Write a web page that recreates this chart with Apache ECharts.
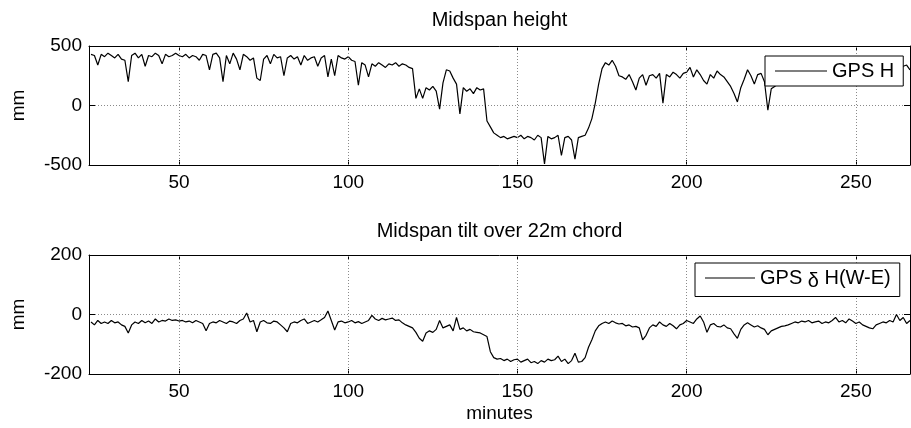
<!DOCTYPE html>
<html>
<head>
<meta charset="utf-8">
<script src="https://cdn.jsdelivr.net/npm/echarts@6/dist/echarts.min.js"></script>
<style>
html,body{margin:0;padding:0;background:#fff;}
#c{width:911px;height:428px;}
</style>
</head>
<body>
<div id="c"></div>
<script>
// ---- data ----
const startMinute = 24;          // first sample, minutes; one sample per minute
const xTicks = [50, 100, 150, 200, 250];
const heightTicks = [-500, 0, 500];
const tiltTicks = [-200, 0, 200];
const titleTop = 'Midspan height';
const titleBottom = 'Midspan tilt over 22m chord';
const xLabel = 'minutes';
const yLabel = 'mm';

// GPS H (mm), minutes 24..266
const gpsH = [
  430, 420, 340, 430, 410, 440, 420, 400, 430, 390,   // 24-33
  380, 200, 420, 440, 400, 430, 330, 420, 410, 440,   // 34-43
  420, 350, 430, 410, 420, 440, 420, 410, 430, 400,   // 44-53
  420, 410, 380, 430, 420, 300, 430, 440, 400, 200,   // 54-63
  420, 350, 440, 390, 300, 430, 410, 380, 400, 230,   // 64-73
  210, 390, 420, 350, 430, 400, 410, 250, 400, 420,   // 74-83
  390, 410, 340, 420, 380, 400, 410, 330, 400, 420,   // 84-93
  240, 390, 250, 420, 400, 390, 410, 380, 370, 170,   // 94-103
  360, 340, 240, 350, 330, 360, 340, 320, 350, 340,   // 104-113
  360, 330, 350, 340, 320, 310, 60, 140, 60, 150,     // 114-123
  130, 160, 120, -30, 190, 300, 290, 230, 180, -70,   // 124-133
  150, 120, 140, 100, 150, 130, 140, -130, -180, -230,// 134-143
  -250, -270, -260, -280, -270, -260, -270, -250, -280, -260, // 144-153
  -270, -290, -250, -270, -490, -260, -280, -270, -250, -420, // 154-163
  -270, -260, -290, -450, -270, -260, -250, -190, -110, 20,   // 164-173
  180, 310, 360, 340, 380, 330, 250, 240, 220, 260,   // 174-183
  200, 130, 230, 260, 170, 250, 260, 230, 270, 20,    // 184-193
  260, 240, 280, 260, 230, 270, 280, 320, 240, 300,   // 194-203
  260, 210, 180, 260, 230, 290, 260, 240, 200, 160,   // 204-213
  100, 30, 150, 220, 300, 250, 180, 260, 270, 200,    // 214-223
  -40, 140, 160, 180, 230, 260, 240, 280, 250, 300,   // 224-233
  270, 240, 290, 260, 230, 280, 300, 260, 250, 290,   // 234-243
  270, 240, 280, 310, 260, 250, 290, 270, 240, 280,   // 244-253
  300, 260, 270, 250, 290, 280, 260, 300, 320, 290,   // 254-263
  330, 340, 300                                       // 264-266
];

// GPS dH(W-E) (mm), minutes 24..266
const gpsDH = [
  -25, -35, -20, -30, -25, -30, -20, -28, -25, -35,   // 24-33
  -40, -62, -35, -25, -30, -20, -28, -22, -30, -15,   // 34-43
  -25, -20, -22, -15, -20, -18, -22, -20, -25, -22,   // 44-53
  -28, -20, -25, -30, -55, -30, -25, -28, -20, -25,   // 54-63
  -30, -22, -25, -30, -20, -15, 5, -25, -20, -58,     // 64-73
  -25, -20, -28, -30, -22, -25, -35, -45, -58, -30,   // 74-83
  -25, -28, -20, -15, -30, -25, -20, -25, -18, -10,   // 84-93
  12, -20, -52, -25, -22, -28, -25, -20, -28, -24,    // 94-103
  -30, -25, -20, -3, -15, -20, -13, -18, -15, -12,    // 104-113
  -20, -18, -28, -35, -40, -45, -60, -80, -90, -62,   // 114-123
  -55, -60, -50, -20, -45, -40, -35, -55, -10, -50,   // 124-133
  -45, -55, -50, -58, -60, -62, -68, -74, -125, -145, // 134-143
  -150, -148, -155, -150, -158, -152, -150, -160, -155, -150, // 144-153
  -162, -158, -165, -155, -160, -150, -155, -152, -140, -158, // 154-163
  -150, -165, -155, -130, -160, -158, -145, -110, -85, -55,   // 164-173
  -38, -30, -25, -30, -22, -28, -32, -30, -38, -35,   // 174-183
  -42, -40, -45, -85, -70, -45, -35, -40, -25, -35,   // 184-193
  -40, -30, -38, -48, -35, -30, -20, -25, -30, -15,   // 194-203
  -5, -25, -60, -35, -30, -40, -42, -35, -45, -48,    // 204-213
  -65, -80, -50, -35, -28, -35, -42, -38, -45, -50,   // 214-223
  -68, -55, -50, -45, -40, -38, -35, -30, -25, -28,   // 224-233
  -22, -25, -20, -28, -25, -22, -30, -25, -28, -20,   // 234-243
  -10, -25, -20, -28, -15, -22, -30, -25, -35, -40,   // 244-253
  -45, -48, -35, -30, -25, -28, -20, -25, 0, -20,     // 254-263
  -10, -30, -20                                       // 264-266
];

// ---- chart ----
const FONT = "'Liberation Sans', Arial, Helvetica, sans-serif";
const FS = 19;      // tick labels, axis names
const FS_T = 20;    // titles, legend
const xMin = 23.4, xMax = 266;
const gridL = 89, gridW = 821, gridH = 119;
const grids = [{ left: gridL, top: 46, width: gridW, height: gridH },
               { left: gridL, top: 255, width: gridW, height: gridH }];

function pairs(arr) { return arr.map((v, i) => [startMinute + i, v]); }

const gridLineStyle = { color: '#8a8a8a', type: [1, 2], width: 1 };
function vGrid() {
  return {
    silent: true, symbol: ['none', 'none'], label: { show: false },
    lineStyle: gridLineStyle, animation: false,
    data: xTicks.map(v => ({ xAxis: v }))
  };
}

function xAxes(gi, withLabels, name) {
  const base = {
    type: 'value', gridIndex: gi, min: xMin, max: xMax,
    splitLine: { show: false },
    axisLine: { show: true, onZero: false, lineStyle: { color: '#000', width: 1 } },
    axisTick: { show: true, inside: true, length: 5, customValues: xTicks, lineStyle: { color: '#000' } },
  };
  return [
    Object.assign({}, base, {
      position: 'bottom',
      axisLabel: { show: withLabels, customValues: xTicks, color: '#000', fontSize: FS, fontFamily: FONT, margin: 8 },
      name: name || '', nameLocation: 'middle', nameGap: 30,
      nameTextStyle: { color: '#000', fontSize: FS, fontFamily: FONT }
    }),
    Object.assign({}, base, { position: 'top', axisLabel: { show: false } })
  ];
}
function yAxes(gi, ticks) {
  const lo = ticks[0], hi = ticks[ticks.length - 1], step = ticks[1] - ticks[0];
  const base = {
    type: 'value', gridIndex: gi, min: lo, max: hi, interval: step,
    axisLine: { show: true, onZero: false, lineStyle: { color: '#000', width: 1 } },
    axisTick: { show: true, inside: true, length: 6, lineStyle: { color: '#000' } },
  };
  return [
    Object.assign({}, base, {
      position: 'left',
      splitLine: { show: true, lineStyle: gridLineStyle },
      axisLabel: { color: '#000', fontSize: FS, fontFamily: FONT, margin: 7 },
      name: yLabel, nameLocation: 'middle', nameGap: 61, nameRotate: 90,
      nameTextStyle: { color: '#000', fontSize: FS, fontFamily: FONT }
    }),
    Object.assign({}, base, { position: 'right', splitLine: { show: false }, axisLabel: { show: false } })
  ];
}

const chart = echarts.init(document.getElementById('c'), null, { renderer: 'canvas' });
chart.setOption({
  animation: false,
  backgroundColor: '#fff',
  grid: grids,
  xAxis: [].concat(xAxes(0, true), xAxes(1, true, xLabel)),
  yAxis: [].concat(yAxes(0, heightTicks), yAxes(1, tiltTicks)),
  legend: [
    {
      data: ['GPS H'], left: 765, top: 56, orient: 'horizontal',
      backgroundColor: '#fff', borderColor: '#000', borderWidth: 1, borderRadius: 0,
      padding: [5, 9, 5, 10], itemWidth: 52, itemHeight: 1, itemGap: 0, icon: 'rect',
      textStyle: { color: '#000', fontSize: FS_T, fontFamily: FONT },
      selectedMode: false, z: 10
    },
    {
      data: ['GPS \u03b4 H(W-E)'], left: 695, top: 263, orient: 'horizontal',
      backgroundColor: '#fff', borderColor: '#000', borderWidth: 1, borderRadius: 0,
      padding: [5, 9, 5, 10], itemWidth: 50, itemHeight: 1, itemGap: 0, icon: 'rect',
      formatter: () => 'GPS {d|\u03b4} H(W-E)',
      textStyle: { color: '#000', fontSize: FS_T, fontFamily: FONT,
        rich: { d: { fontSize: FS_T, fontFamily: FONT, color: '#000', padding: [7, 0, 0, 0] } } },
      selectedMode: false, z: 10
    }
  ],
  graphic: [
    { type: 'text', x: gridL + gridW / 2, y: 20, silent: true,
      style: { text: titleTop, align: 'center', verticalAlign: 'middle', fontSize: FS_T, fontFamily: FONT, fill: '#000' } },
    { type: 'text', x: gridL + gridW / 2, y: 231, silent: true,
      style: { text: titleBottom, align: 'center', verticalAlign: 'middle', fontSize: FS_T, fontFamily: FONT, fill: '#000' } }
  ],
  series: [
    {
      name: 'GPS H', type: 'line', xAxisIndex: 0, yAxisIndex: 0,
      data: pairs(gpsH), showSymbol: false, symbol: 'none',
      lineStyle: { color: '#000', width: 1.2 }, itemStyle: { color: '#000' },
      markLine: vGrid(), z: 3
    },
    {
      name: 'GPS \u03b4 H(W-E)', type: 'line', xAxisIndex: 2, yAxisIndex: 2,
      data: pairs(gpsDH), showSymbol: false, symbol: 'none',
      lineStyle: { color: '#000', width: 1.2 }, itemStyle: { color: '#000' },
      markLine: vGrid(), z: 3
    }
  ]
});
</script>
</body>
</html>
